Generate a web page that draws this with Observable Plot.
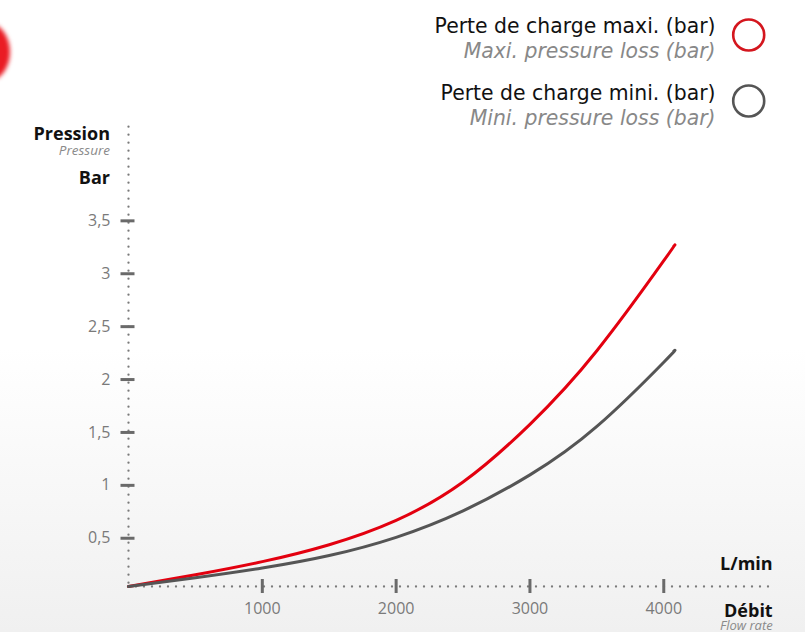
<!DOCTYPE html>
<html><head><meta charset="utf-8">
<script src="https://cdn.jsdelivr.net/npm/d3@7"></script>
<script src="https://cdn.jsdelivr.net/npm/@observablehq/plot@0.6"></script>
<style>
html,body{margin:0;padding:0;}
body{width:805px;height:632px;overflow:hidden;background:linear-gradient(to bottom,#ffffff 0%,#ffffff 55%,#f0f0f0 100%);font-family:"Open Sans",sans-serif;}
#wrap{position:relative;width:805px;height:632px;}
#blob{position:absolute;left:-38px;top:22px;width:48px;height:60px;border-radius:50%;background:#ea1c24;filter:blur(2px);}
#wrap svg{position:absolute;left:0;top:0;overflow:visible;}
</style></head><body><div id="wrap"><div id="blob"></div></div>
<script>
// Data
const flowRate = [0, 500, 1000, 1500, 2000, 2500, 3000, 3500, 4000, 4075];
const maxLoss  = [0.044, 0.155, 0.279, 0.439, 0.669, 1.032, 1.577, 2.272, 3.123, 3.26];
const minLoss  = [0.044, 0.127, 0.219, 0.337, 0.509, 0.759, 1.099, 1.557, 2.164, 2.269];
const xTicks = [1000, 2000, 3000, 4000];
const yTicks = [0.5, 1, 1.5, 2, 2.5, 3, 3.5];
const xDomain = [0, 4820];
const yDomain = [0.044, 4.385];
const seriesNames = ["Perte de charge maxi. (bar)", "Perte de charge mini. (bar)"];
const seriesSub = ["Maxi. pressure loss (bar)", "Mini. pressure loss (bar)"];
const seriesColors = ["#e3000f", "#555555"];
const legendColors = ["#d4161e", "#555555"];

const rows = [];
flowRate.forEach((f, i) => {
  rows.push({flow: f, loss: maxLoss[i], s: seriesNames[0]});
  rows.push({flow: f, loss: minLoss[i], s: seriesNames[1]});
});

const fmt = d => String(d).replace(".", ",");
const dotted = {stroke: "#7a7a7a", strokeWidth: 2.3, strokeDasharray: "0 8", strokeLinecap: "round"};

const chart = Plot.plot({
  width: 805, height: 632,
  marginLeft: 128, marginRight: 32, marginTop: 126.7, marginBottom: 46,
  style: {background: "transparent", fontFamily: "Open Sans", overflow: "visible"},
  x: {domain: xDomain, label: null},
  y: {domain: yDomain, label: null},
  color: {domain: seriesNames, range: seriesColors},
  marks: [
    Plot.ruleX([xDomain[0]], dotted),
    Plot.ruleY([yDomain[0]], dotted),
    Plot.axisY({ticks: yTicks, tickSize: 14, dx: 6.5, stroke: "#6a6a6a", strokeWidth: 3, tickFormat: () => "", label: null}),
    Plot.axisY({ticks: yTicks, tickSize: 0, tickPadding: 18, tickFormat: fmt, fill: "#7a7a7a", fontSize: 16, label: null}),
    Plot.axisX({ticks: xTicks, tickSize: 14, dy: -7, stroke: "#6a6a6a", strokeWidth: 3, tickFormat: () => "", label: null}),
    Plot.axisX({ticks: xTicks, tickSize: 0, tickPadding: 16, tickFormat: d => String(d), fill: "#7a7a7a", fontSize: 16, label: null}),
    Plot.line(rows, {x: "flow", y: "loss", z: "s", stroke: "s", strokeWidth: 3, curve: "natural"})
  ]
});
document.getElementById("wrap").appendChild(chart);

const svg = d3.select(chart);
function txt(x, y, t, size, weight, style, fill, family) {
  svg.append("text").attr("x", x).attr("y", y).attr("text-anchor", "end")
    .attr("font-family", family || "Open Sans").attr("font-size", size)
    .attr("font-weight", weight).attr("font-style", style).attr("fill", fill).text(t);
}
// axis titles
txt(110, 140, "Pression", 18, "bold", "normal", "#111");
txt(110, 155, "Pressure", 13.5, "normal", "italic", "#8a8a8a");
txt(110, 184, "Bar", 18, "bold", "normal", "#111");
txt(772.7, 570, "L/min", 18, "bold", "normal", "#111");
txt(772.7, 617, "Débit", 18, "bold", "normal", "#111");
txt(772.7, 630, "Flow rate", 13, "normal", "italic", "#8a8a8a");
// legend
const legY = [[33.3, 58.3, 35], [100, 125, 101]];
seriesNames.forEach((n, i) => {
  txt(715.5, legY[i][0], n, 20.4, "normal", "normal", "#111", "DejaVu Sans");
  txt(715.5, legY[i][1], seriesSub[i], 20.4, "normal", "italic", "#888", "DejaVu Sans");
  svg.append("circle").attr("cx", 748.7).attr("cy", legY[i][2]).attr("r", 15.5)
    .attr("fill", "none").attr("stroke", legendColors[i]).attr("stroke-width", 2.6);
});
</script></body></html>
